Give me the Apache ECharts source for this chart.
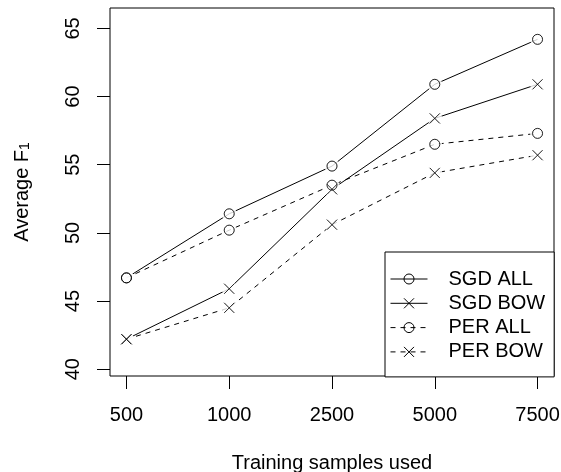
<!DOCTYPE html>
<html>
<head>
<meta charset="utf-8">
<script src="https://cdn.jsdelivr.net/npm/echarts@6/dist/echarts.min.js"></script>
<style>html,body{margin:0;padding:0;background:#fff;}#c{width:561px;height:472px;}</style>
</head>
<body>
<div id="c"></div>
<script>
const categories = ['500', '1000', '2500', '5000', '7500'];
const sgdAll = [46.7, 51.4, 54.9, 60.9, 64.2];
const sgdBow = [42.2, 45.9, 53.2, 58.4, 60.9];
const perAll = [46.7, 50.2, 53.5, 56.5, 57.3];
const perBow = [42.2, 44.5, 50.6, 54.4, 55.7];
const yTicks = [40, 45, 50, 55, 60, 65];
const seriesNames = ['SGD ALL', 'SGD BOW', 'PER ALL', 'PER BOW'];

const FONT = 'Liberation Sans, Arial, Helvetica, sans-serif';
const FS = 20;
const CROSS = 'path://M0,0L10,10M10,0L0,10';
const xPos = categories.map((c, i) => i + 1);
const toPts = vals => vals.map((v, i) => [xPos[i], v]);

function mainSeries(name, vals, isCircle, dashed) {
  return {
    type: 'line', name: name, data: toPts(vals), z: 2,
    symbol: isCircle ? 'circle' : CROSS, symbolSize: 10, symbolKeepAspect: true,
    lineStyle: { color: '#000', width: 1, type: dashed ? [5, 5] : 'solid' },
    itemStyle: { color: isCircle ? 'rgba(0,0,0,0)' : '#000', borderColor: '#000', borderWidth: 1 },
    emphasis: { disabled: true }, silent: true
  };
}
const allSets = [sgdAll, sgdBow, perAll, perBow];
const discPts = [].concat(...allSets.map(toPts));
const circlePts = [].concat(toPts(sgdAll), toPts(perAll));
const crossPts = [].concat(toPts(sgdBow), toPts(perBow));

const chart = echarts.init(document.getElementById('c'), null, { renderer: 'canvas' });
chart.setOption({
  animation: false,
  backgroundColor: '#fff',
  textStyle: { fontFamily: FONT },
  grid: { left: 110, right: 7, top: 8, bottom: 96, show: true, borderColor: '#000', borderWidth: 1, containLabel: false, outerBoundsMode: 'none' },
  legend: {
    data: seriesNames, orient: 'vertical', left: 385, top: 252, z: 20,
    padding: [17, 9, 15, 5], itemGap: 4.3, itemWidth: 37, itemHeight: 12.5,
    backgroundColor: '#fff', borderColor: '#000', borderWidth: 1, borderRadius: 0,
    selectedMode: false,
    lineStyle: { width: 1 },
    itemStyle: { borderWidth: 1 },
    textStyle: { fontSize: FS, color: '#000', fontFamily: FONT, padding: [0, 0, 0, 16] }
  },
  xAxis: {
    type: 'value', min: 0.84, max: 5.16,
    axisLine: { show: false }, splitLine: { show: false },
    axisTick: { show: true, length: 13, lineStyle: { color: '#000', width: 1 }, customValues: xPos },
    axisLabel: { customValues: xPos, formatter: v => categories[Math.round(v) - 1], fontSize: FS, color: '#000', margin: 29, fontFamily: FONT },
    name: 'Training samples used', nameLocation: 'middle', nameGap: 77,
    nameTextStyle: { fontSize: FS, color: '#000', fontFamily: FONT }
  },
  yAxis: {
    type: 'value', min: 39.5, max: 66.5,
    axisLine: { show: false }, splitLine: { show: false },
    axisTick: { show: true, length: 13, lineStyle: { color: '#000', width: 1 }, customValues: yTicks },
    axisLabel: { customValues: yTicks, rotate: 90, fontSize: FS, color: '#000', margin: 27, fontFamily: FONT },
    name: 'Average F{sub|1}', nameLocation: 'middle', nameGap: 78,
    nameTextStyle: { fontSize: FS, color: '#000', fontFamily: FONT,
      rich: { sub: { fontSize: 14, color: '#000', fontFamily: FONT, verticalAlign: 'bottom', padding: [6, 0, 0, 0] } } }
  },
  series: [
    mainSeries(seriesNames[0], sgdAll, true, false),
    mainSeries(seriesNames[1], sgdBow, false, false),
    mainSeries(seriesNames[2], perAll, true, true),
    mainSeries(seriesNames[3], perBow, false, true),
    { type: 'scatter', name: 'gaps', data: discPts, z: 3, symbol: 'circle', symbolSize: 15,
      itemStyle: { color: '#fff' }, silent: true, emphasis: { disabled: true } },
    { type: 'scatter', name: 'circles', data: circlePts, z: 4, symbol: 'circle', symbolSize: 10,
      itemStyle: { color: 'rgba(0,0,0,0)', borderColor: '#000', borderWidth: 1 }, silent: true, emphasis: { disabled: true } },
    { type: 'scatter', name: 'crosses', data: crossPts, z: 4, symbol: CROSS, symbolSize: 10,
      itemStyle: { color: '#000', borderColor: '#000', borderWidth: 1 }, silent: true, emphasis: { disabled: true } }
  ]
});
</script>
</body>
</html>
